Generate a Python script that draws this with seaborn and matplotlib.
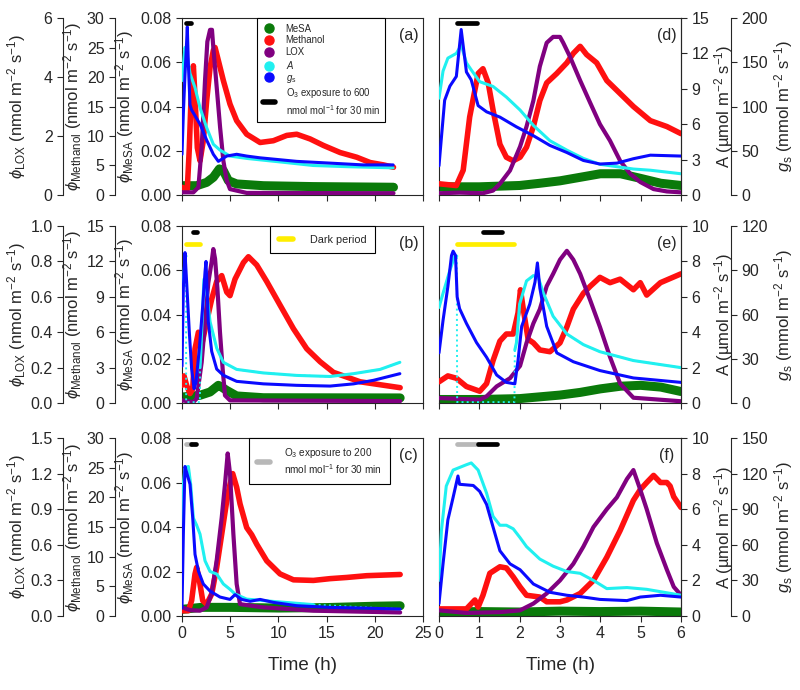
import numpy as np
import matplotlib
matplotlib.use("Agg")
import matplotlib.pyplot as plt
from matplotlib.lines import Line2D
from matplotlib.ticker import FormatStrFormatter
import seaborn as sns

# ---------------- data ----------------
# row 1: O3 600 nmol/mol, panel (a) = 0-22 h, panel (d) = first 6 h
a_mesa_t = [0, 1.52, 2.56, 3.25, 3.88, 4.29, 4.81, 5.67, 8.44, 13.6, 21.94]
a_mesa = [0.0042, 0.0042, 0.0057, 0.008, 0.0118, 0.011, 0.0065, 0.005, 0.0042, 0.0038, 0.0035]
a_meth_t = [0, 0.55, 0.76, 1.0, 1.18, 1.35, 1.59, 1.87, 2.21, 2.56, 2.91, 3.25, 3.43, 3.77, 4.29,
            4.98, 5.67, 6.71, 8.1, 9.48, 10.87, 11.9, 13.29, 14.67, 16.4, 18.13, 19.52, 20.9, 21.94]
a_meth = [1.3, 1.0, 8, 19.4, 21.9, 16.6, 8, 5.8, 9.2, 16, 21.6, 24.5, 25, 22.8, 19.4,
          15.4, 12.6, 10.3, 8.9, 9.2, 10.1, 10.3, 9.5, 8.4, 7.2, 6.4, 5.5, 5.1, 4.7]
a_lox_t = [0, 1.18, 1.7, 2.04, 2.39, 2.63, 2.91, 3.11, 3.25, 3.6, 3.95, 4.29, 4.64, 4.98, 6.71, 21.94]
a_lox = [0.09, 0.09, 0.26, 1.6, 3.9, 5.2, 5.6, 5.6, 5.0, 3.65, 2.3, 1.16, 0.49, 0.2, 0.07, 0.06]
a_a_t = [0, 0.31, 0.48, 0.83, 1.35, 1.87, 2.56, 3.25, 3.95, 4.98, 6.71, 10.2, 13.6, 17.1, 21.9]
a_a = [9.7, 12.5, 12.2, 10.3, 9.1, 7.4, 5.7, 4.3, 3.8, 3.3, 3.1, 2.8, 2.5, 2.4, 2.3]
a_gs_t = [0, 0.14, 0.31, 0.45, 0.55, 0.66, 0.83, 1.0, 1.87, 2.56, 3.25, 3.77, 4.64, 5.67, 6.71,
          8.1, 11.9, 15.4, 18.8, 21.9]
a_gs = [46, 92, 136, 166, 190, 148, 102, 96, 80, 62, 46, 38, 44, 46, 44, 42, 38, 36, 34, 34]

d_mesa_t = [0, 1.0, 2.0, 2.5, 3.0, 3.5, 4.0, 4.5, 5.0, 5.5, 6.0]
d_mesa = [0.0037, 0.0037, 0.0043, 0.0053, 0.0064, 0.008, 0.0096, 0.0096, 0.0075, 0.0053, 0.0043]
d_meth_t = [0, 0.43, 0.60, 0.76, 0.97, 1.09, 1.22, 1.34, 1.51, 1.67, 1.84, 2.01, 2.17, 2.34, 2.50,
            2.67, 2.92, 3.17, 3.33, 3.50, 3.66, 3.91, 4.16, 4.49, 4.82, 5.24, 5.65, 6.0]
d_meth = [1.9, 1.6, 4.2, 13.2, 20.6, 21.4, 19, 14.4, 8.6, 6.4, 5.8, 6.4, 8.1, 11.6, 16,
          19, 20.6, 22.4, 24, 25.2, 23.8, 22.4, 19.4, 17.2, 15, 12.6, 11.6, 10.4]
d_lox_t = [0, 0.51, 1.09, 1.34, 1.51, 1.76, 2.01, 2.17, 2.34, 2.50, 2.67, 2.83, 3.0, 3.08, 3.25,
           3.50, 3.75, 3.99, 4.24, 4.49, 4.74, 4.99, 5.32, 5.65, 6.0]
d_lox = [0.06, 0.08, 0.06, 0.15, 0.38, 0.83, 1.64, 2.32, 3.2, 4.36, 5.16, 5.36, 5.36, 5.16, 4.68,
         3.88, 3.12, 2.4, 1.84, 1.16, 0.72, 0.44, 0.2, 0.12, 0.09]
d_a_t = [0, 0.10, 0.22, 0.43, 0.55, 0.68, 0.80, 1.01, 1.34, 1.67, 2.01, 2.34, 2.75, 3.17, 3.58,
         3.99, 4.41, 4.82, 5.24, 6.0]
d_a = [8.2, 10.5, 11.6, 12.0, 12.7, 11.2, 10.6, 9.6, 9.2, 8.3, 7.2, 5.9, 4.6, 3.8, 3.1,
       2.6, 2.4, 2.2, 2.1, 1.8]
d_gs_t = [0, 0.06, 0.14, 0.27, 0.43, 0.55, 0.68, 0.80, 0.97, 1.18, 1.51, 1.92, 2.34, 2.75, 3.17,
          3.58, 3.99, 4.41, 4.82, 5.24, 6.0]
d_gs = [33, 65, 107, 123, 134, 187, 139, 130, 101, 94, 88, 77, 67, 56, 48, 39, 35, 36, 41, 45, 44]

# row 2: O3 600 nmol/mol given in the dark, panel (b) and (e)
b_mesa_t = [0, 1.87, 2.91, 3.77, 4.12, 4.64, 5.67, 8.44, 22.63]
b_mesa = [0.0027, 0.0035, 0.005, 0.008, 0.0072, 0.0057, 0.0032, 0.0024, 0.0023]
b_meth_t = [0, 0.21, 0.48, 0.83, 1.11, 1.35, 1.7, 2.04, 2.56, 3.08, 3.6, 4.12, 4.64, 4.98, 5.5,
            6.37, 6.89, 7.75, 8.79, 10.17, 11.56, 12.94, 14.33, 15.71, 17.09, 18.48, 20.55, 22.63]
b_meth = [1.5, 2.3, 1.5, 0.8, 1.2, 4.6, 6.0, 4.9, 6.9, 8.8, 10.3, 10.8, 9.4, 9.1, 10.5,
          11.9, 12.4, 11.7, 10.3, 8.3, 6.3, 4.6, 3.5, 2.6, 2.2, 1.8, 1.55, 1.3]
b_lox_t = [0, 1.18, 1.52, 2.04, 2.39, 2.73, 3.08, 3.25, 3.43, 3.67, 3.94, 4.22, 4.46, 4.98, 22.63]
b_lox = [0.015, 0.005, 0.025, 0.23, 0.46, 0.68, 0.80, 0.87, 0.815, 0.65, 0.40, 0.19, 0.043, 0.015, 0.011]
b_a_t = [0, 0.21, 0.35, 0.42, 0.43, 1.86, 1.87, 1.94, 2.15, 2.28, 2.56, 2.91, 3.6, 4.29, 5.67,
         8.44, 11.9, 15.36, 17.8, 20.55, 22.6]
b_a = [5.9, 7.4, 8.3, 8.3, 0.05, 0.05, 2.0, 2.7, 5.5, 7.0, 6.3, 4.6, 3.1, 2.3, 1.9,
       1.7, 1.56, 1.5, 1.66, 1.9, 2.3]
b_gs_t = [0, 0.14, 0.31, 0.48, 0.76, 1.0, 1.25, 1.45, 1.8, 2.15, 2.39, 2.49, 2.73, 3.08, 3.6,
          4.29, 5.67, 8.44, 11.9, 15.36, 17.8, 19.86, 22.6]
b_gs = [25, 78, 102, 82, 48, 23, 9.7, 14, 37, 66, 89, 96, 55, 35, 23,
        18.8, 14.7, 13, 12, 11.5, 13, 15.4, 19.9]

e_mesa_t = [0, 1.0, 2.0, 2.5, 3.0, 3.5, 4.0, 4.5, 5.0, 5.5, 6.0]
e_mesa = [0.0016, 0.0016, 0.002, 0.0028, 0.0036, 0.0048, 0.0064, 0.0076, 0.008, 0.0072, 0.0052]
e_meth_t = [0, 0.22, 0.43, 0.68, 1.01, 1.18, 1.34, 1.51, 1.67, 1.84, 1.96, 2.02, 2.09, 2.21, 2.34,
            2.50, 2.75, 3.0, 3.17, 3.33, 3.58, 3.75, 3.99, 4.24, 4.49, 4.82, 4.99, 5.15, 5.49, 6.0]
e_meth = [1.8, 2.3, 2.1, 1.4, 1.0, 1.65, 3.6, 5.25, 5.85, 5.85, 7.65, 9.6, 7.95, 5.4, 5.1,
          4.5, 4.35, 5.1, 6.45, 7.95, 9.3, 9.9, 10.65, 10.2, 10.5, 9.6, 10.2, 9.15, 10.2, 10.95]
e_lox_t = [0, 1.01, 1.18, 1.43, 1.76, 2.01, 2.17, 2.34, 2.50, 2.67, 2.83, 3.0, 3.17, 3.33, 3.50,
           3.75, 3.99, 4.24, 4.49, 4.82, 6.0]
e_lox = [0.028, 0.019, 0.038, 0.094, 0.14, 0.21, 0.34, 0.45, 0.53, 0.66, 0.73, 0.81, 0.86, 0.81, 0.73,
         0.58, 0.43, 0.26, 0.11, 0.03, 0.01]
e_a_t = [0, 0.10, 0.27, 0.39, 0.44, 0.45, 1.0, 1.5, 1.87, 1.88, 1.92, 2.0, 2.17, 2.34, 2.46,
         2.59, 2.83, 3.17, 3.58, 3.99, 4.82, 6.0]
e_a = [5.4, 6.2, 7.5, 8.3, 8.3, 0.05, 0.05, 0.05, 0.05, 3.0, 3.4, 5.6, 6.9, 7.2, 7.1,
       6.2, 4.9, 3.9, 3.3, 2.9, 2.4, 2.0]
e_gs_t = [0, 0.10, 0.22, 0.31, 0.35, 0.41, 0.45, 0.51, 0.68, 0.93, 1.18, 1.43, 1.67, 1.88, 1.96,
          2.05, 2.25, 2.38, 2.44, 2.50, 2.67, 2.92, 3.33, 3.99, 4.82, 6.0]
e_gs = [34, 56, 79, 100, 103, 100, 72, 64, 54, 41, 31, 19, 14, 13, 29,
        52, 67, 82, 95, 78, 52, 34, 28, 22, 17, 14]

# row 3: O3 200 nmol/mol then 600 nmol/mol, panel (c) and (f)
c_mesa_t = [0, 2.0, 5.0, 10.0, 15.0, 20.0, 22.63]
c_mesa = [0.003, 0.0039, 0.0039, 0.0036, 0.0038, 0.0044, 0.0046]
c_meth_t = [0, 0.66, 1.0, 1.35, 1.52, 1.8, 2.15, 2.56, 3.08, 3.6, 4.12, 4.64, 4.98, 5.26, 5.67,
            6.02, 6.71, 7.23, 7.75, 8.79, 10.17, 11.56, 13.63, 15.36, 17.09, 19.17, 22.63]
c_meth = [0.9, 0.9, 2.6, 7.1, 8.2, 6.0, 2.6, 2.0, 3.7, 8.2, 13.8, 19.4, 22.2, 24.0, 21.7,
          18.9, 14.9, 13.7, 12.1, 9.3, 7.1, 6.1, 6.0, 6.3, 6.5, 6.8, 7.0]
c_lox_t = [0, 0.83, 1.87, 2.56, 3.08, 3.6, 4.12, 4.46, 4.74, 4.98, 5.33, 5.67, 6.02, 8.44, 13.63, 22.63]
c_lox = [0.073, 0.05, 0.045, 0.073, 0.19, 0.47, 0.83, 1.11, 1.37, 1.2, 0.69, 0.27, 0.1, 0.073, 0.045, 0.03]
c_a_t = [0, 0.14, 0.31, 0.66, 0.90, 1.18, 1.52, 1.87, 2.39, 2.91, 3.6, 4.29, 4.98, 5.5, 6.71,
         9.48, 13.63, 18.82, 22.63]
c_a = [3.1, 7.4, 8.35, 8.4, 7.4, 5.5, 5.1, 4.6, 3.1, 2.5, 2.36, 1.8, 1.5, 1.24, 0.95,
       0.82, 0.64, 0.49, 0.39]
c_gs_t = [0, 0.14, 0.31, 0.55, 0.83, 1.11, 1.35, 1.7, 2.21, 2.91, 3.94, 4.98, 5.5, 6.19, 7.06,
          8.10, 9.48, 11.9, 15.36, 18.82, 22.63]
c_gs = [7, 69, 126, 119, 111, 83, 52, 38, 27, 21, 16, 14, 18, 14, 12.4,
        14, 11.5, 8.7, 7.3, 6.7, 5.9]

f_mesa_t = [0, 1, 2, 3, 4, 5, 6]
f_mesa = [0.0018, 0.002, 0.0018, 0.0022, 0.002, 0.0022, 0.0018]
f_meth_t = [0, 0.68, 0.89, 0.97, 1.09, 1.26, 1.51, 1.67, 1.84, 2.01, 2.17, 2.50, 2.67, 3.0, 3.17,
            3.50, 3.83, 4.16, 4.49, 4.82, 4.99, 5.15, 5.32, 5.49, 5.65, 5.73, 5.82, 6.0]
f_meth = [1.2, 1.2, 2.7, 1.5, 3.5, 7.2, 8.3, 8.1, 6.6, 4.9, 3.5, 3.2, 2.4, 2.4, 2.7,
          3.8, 6.0, 9.9, 14.4, 19.5, 21.3, 22.5, 23.7, 22.5, 22.5, 21.9, 20.1, 18.3]
f_lox_t = [0, 0.68, 1.51, 2.01, 2.34, 2.67, 3.0, 3.33, 3.58, 3.83, 4.16, 4.41, 4.66, 4.82, 4.99,
           5.15, 5.40, 5.65, 5.82, 6.0]
f_lox = [0.048, 0.026, 0.033, 0.048, 0.105, 0.19, 0.3, 0.44, 0.585, 0.75, 0.9, 1.0, 1.155, 1.23, 1.065,
         0.9, 0.615, 0.39, 0.246, 0.176]
f_a_t = [0, 0.06, 0.18, 0.35, 0.68, 0.80, 0.97, 1.18, 1.34, 1.51, 1.67, 1.84, 2.01, 2.17, 2.50,
         2.83, 3.17, 3.50, 3.83, 4.16, 4.66, 5.15, 6.0]
f_a = [2.0, 4.8, 7.3, 8.2, 8.5, 8.6, 8.2, 6.9, 5.6, 5.1, 5.1, 4.9, 4.4, 3.9, 3.2,
       2.8, 2.5, 2.4, 2.0, 1.54, 1.6, 1.5, 1.17]
f_gs_t = [0, 0.10, 0.22, 0.35, 0.47, 0.51, 0.85, 1.01, 1.18, 1.34, 1.51, 1.76, 2.01, 2.34, 2.75,
          3.17, 3.58, 3.99, 4.66, 4.99, 5.49, 6.0]
f_gs = [10.5, 44, 81, 100, 118, 111, 110, 105, 94, 75, 55, 44, 39, 27, 20,
        17.5, 16, 14, 13, 16, 17.5, 16]

# ozone exposure / dark period bars (h)
o3_row1 = [0.45, 0.95]
o3_row2 = [1.1, 1.55]
dark_row2 = [0.45, 1.85]
o3_low_row3 = [0.45, 0.93]
o3_row3 = [0.97, 1.45]

# axis ranges for each row (left and right panel of a row share them)
MESA_MAX = [0.08, 0.08, 0.08]
METH_MAX = [30, 15, 30]
METH_STEP = [5, 3, 5]
LOX_MAX = [6, 1.0, 1.5]
LOX_STEP = [2, 0.2, 0.3]
LOX_FMT = ["%d", "%.1f", "%.1f"]
A_MAX = [15, 10, 10]
A_STEP = [3, 2, 2]
GS_MAX = [200, 120, 150]
GS_STEP = [50, 30, 30]

SERIES = ["MeSA", "Methanol", "LOX", "A", "gs"]
COLORS = {"MeSA": "#0a7a0a", "Methanol": "#ff1010", "LOX": "#800080",
          "A": "#20f0f0", "gs": "#0a0aff"}
WIDTHS = {"MeSA": 6.5, "Methanol": 4.0, "LOX": 3.0, "A": 2.2, "gs": 2.2}
UNIT = r" (nmol m$^{-2}$ s$^{-1}$)"
PX = 72 / 100  # points per pixel

sns.set_style("ticks")
plt.rcParams["font.family"] = ["Liberation Sans", "DejaVu Sans"]
plt.rcParams["mathtext.fontset"] = "custom"
plt.rcParams["mathtext.rm"] = "Liberation Sans"
plt.rcParams["mathtext.it"] = "Liberation Sans:italic"
plt.rcParams["mathtext.bf"] = "Liberation Sans:bold"
plt.rcParams["axes.linewidth"] = 0.8
plt.rcParams["xtick.labelsize"] = 11.5
plt.rcParams["ytick.labelsize"] = 11.5
plt.rcParams["xtick.major.size"] = 4
plt.rcParams["ytick.major.size"] = 4
plt.rcParams["axes.labelsize"] = 12


def ticks(top, step):
    return np.linspace(0, top, int(round(top / step)) + 1)


def make_axes(fig, rect):
    host = fig.add_axes(rect)
    axs = {"MeSA": host}
    for name in SERIES[1:]:
        tw = host.twinx()
        for sp in tw.spines.values():
            sp.set_visible(False)
        tw.set_yticks([])
        axs[name] = tw
    return axs


def draw_series(axs, data):
    for name in SERIES:
        t, v = data[name]
        if name == "A" and min(v) < 0.5:
            # light switched off: draw the jumps as dotted, the rest solid
            t = np.asarray(t, float)
            v = np.asarray(v, float)
            sns.lineplot(x=t, y=v, ax=axs[name], color=COLORS[name], linewidth=1.4,
                         linestyle=":", legend=False)
            on = v > 0.5
            run = np.cumsum(np.r_[0, np.diff(on.astype(int)) != 0])
            sns.lineplot(x=t[on], y=v[on], units=run[on], estimator=None, ax=axs[name],
                         color=COLORS[name], linewidth=WIDTHS[name], legend=False)
        else:
            sns.lineplot(x=t, y=v, ax=axs[name], color=COLORS[name],
                         linewidth=WIDTHS[name], legend=False)


def side_axis(ax, side, offset_px, top, step, fmt, label, label_x):
    ax.spines[side].set_visible(True)
    ax.spines[side].set_position(("outward", offset_px * PX))
    ax.set_ylim(0, top)
    ax.set_yticks(ticks(top, step))
    ax.yaxis.set_major_formatter(FormatStrFormatter(fmt))
    if side == "left":
        ax.yaxis.tick_left()
    else:
        ax.yaxis.tick_right()
    ax.yaxis.set_label_position(side)
    ax.set_ylabel(label, visible=True)
    ax.yaxis.set_label_coords(label_x, 0.5)


def setup_left(axs, row, show_x):
    host = axs["MeSA"]
    host.set_xlim(0, 25)
    host.set_xticks(range(0, 26, 5))
    host.tick_params(axis="x", labelbottom=show_x)
    host.set_ylim(0, MESA_MAX[row])
    host.set_yticks(ticks(MESA_MAX[row], 0.02))
    host.yaxis.set_major_formatter(FormatStrFormatter("%.2f"))
    host.set_ylabel(r"$\phi_{\mathrm{MeSA}}$" + UNIT, visible=True)
    host.yaxis.set_label_coords(-0.19, 0.5)
    side_axis(axs["Methanol"], "left", 67, METH_MAX[row], METH_STEP[row], "%d",
              r"$\phi_{\mathrm{Methanol}}$" + UNIT, -0.408)
    side_axis(axs["LOX"], "left", 119, LOX_MAX[row], LOX_STEP[row], LOX_FMT[row],
              r"$\phi_{\mathrm{LOX}}$" + UNIT, -0.638)
    axs["A"].set_ylim(0, A_MAX[row])
    axs["gs"].set_ylim(0, GS_MAX[row])


def setup_right(axs, row, show_x):
    host = axs["MeSA"]
    host.set_xlim(0, 6)
    host.set_xticks(range(7))
    host.tick_params(axis="x", labelbottom=show_x)
    host.set_ylim(0, MESA_MAX[row])
    host.set_yticks([])
    axs["Methanol"].set_ylim(0, METH_MAX[row])
    axs["LOX"].set_ylim(0, LOX_MAX[row])
    side_axis(axs["A"], "right", 0, A_MAX[row], A_STEP[row], "%d",
              r"A (µmol m$^{-2}$ s$^{-1}$)", 1.13)
    side_axis(axs["gs"], "right", 50, GS_MAX[row], GS_STEP[row], "%d",
              r"$g_{\mathrm{s}}$ (mmol m$^{-2}$ s$^{-1}$)", 1.375)


def bar(ax, span, level, color):
    ax.plot(span, [level, level], transform=ax.get_xaxis_transform(), color=color,
            lw=3.4, solid_capstyle="round", clip_on=False)


def panel_tag(ax, tag):
    ax.text(0.94, 0.9, tag, transform=ax.transAxes, ha="center", va="center", fontsize=11.5)


def add_legend(ax, handles, labels, x0, fontsize, **kw):
    leg = ax.legend(handles, labels, loc="upper left", bbox_to_anchor=(x0, 1.0),
                    borderaxespad=0, frameon=True, fancybox=False, framealpha=1,
                    edgecolor="black", fontsize=fontsize, **kw)
    leg.get_frame().set_linewidth(0.8)
    return leg


fig = plt.figure(figsize=(8, 6.9), dpi=100)

rows_y = [(0.7174, 0.2565), (0.4159, 0.2565), (0.1072, 0.258)]
LEFT = (182 / 800, 241 / 800)
RIGHT = (439 / 800, 242 / 800)

left_data = [
    {"MeSA": (a_mesa_t, a_mesa), "Methanol": (a_meth_t, a_meth), "LOX": (a_lox_t, a_lox),
     "A": (a_a_t, a_a), "gs": (a_gs_t, a_gs)},
    {"MeSA": (b_mesa_t, b_mesa), "Methanol": (b_meth_t, b_meth), "LOX": (b_lox_t, b_lox),
     "A": (b_a_t, b_a), "gs": (b_gs_t, b_gs)},
    {"MeSA": (c_mesa_t, c_mesa), "Methanol": (c_meth_t, c_meth), "LOX": (c_lox_t, c_lox),
     "A": (c_a_t, c_a), "gs": (c_gs_t, c_gs)},
]
right_data = [
    {"MeSA": (d_mesa_t, d_mesa), "Methanol": (d_meth_t, d_meth), "LOX": (d_lox_t, d_lox),
     "A": (d_a_t, d_a), "gs": (d_gs_t, d_gs)},
    {"MeSA": (e_mesa_t, e_mesa), "Methanol": (e_meth_t, e_meth), "LOX": (e_lox_t, e_lox),
     "A": (e_a_t, e_a), "gs": (e_gs_t, e_gs)},
    {"MeSA": (f_mesa_t, f_mesa), "Methanol": (f_meth_t, f_meth), "LOX": (f_lox_t, f_lox),
     "A": (f_a_t, f_a), "gs": (f_gs_t, f_gs)},
]

for row in range(3):
    y0, h = rows_y[row]
    last = row == 2
    la = make_axes(fig, [LEFT[0], y0, LEFT[1], h])
    ra = make_axes(fig, [RIGHT[0], y0, RIGHT[1], h])
    draw_series(la, left_data[row])
    draw_series(ra, right_data[row])
    setup_left(la, row, last)
    setup_right(ra, row, last)
    panel_tag(la["MeSA"], "(" + "abc"[row] + ")")
    panel_tag(ra["MeSA"], "(" + "def"[row] + ")")

    for axs in (la, ra):
        top = axs["gs"]
        if row == 0:
            bar(top, o3_row1, 0.97, "black")
        elif row == 1:
            bar(top, dark_row2, 0.90, "#ffee00")
            bar(top, o3_row2, 0.964, "black")
        else:
            bar(top, o3_low_row3, 0.968, "#b8b8b8")
            bar(top, o3_row3, 0.968, "black")

    top = la["gs"]
    if row == 0:
        handles = [Line2D([], [], ls="none", marker="o", markersize=6.5, color=COLORS[n])
                   for n in SERIES]
        handles.append(Line2D([], [], color="black", lw=4, solid_capstyle="round"))
        labels = ["MeSA", "Methanol", "LOX", r"$A$", r"$g_{\mathrm{s}}$",
                  "O$_3$ exposure to 600\nnmol mol$^{-1}$ for 30 min"]
        add_legend(top, handles, labels, 0.311, 6.9, handlelength=1.3,
                   handletextpad=1.1, labelspacing=0.18, borderpad=0.6)
    elif row == 1:
        handles = [Line2D([], [], color="#ffee00", lw=4, solid_capstyle="round")]
        add_legend(top, handles, ["Dark period"], 0.365, 7.8, handlelength=1.3,
                   handletextpad=1.6, borderpad=0.8)
    else:
        handles = [Line2D([], [], color="#b8b8b8", lw=4, solid_capstyle="round")]
        add_legend(top, handles, ["O$_3$ exposure to 200\nnmol mol$^{-1}$ for 30 min"],
                   0.278, 7.2, handlelength=1.3, handletextpad=1.4, borderpad=0.8)
        la["MeSA"].set_xlabel("Time (h)", fontsize=13.5, visible=True)
        la["MeSA"].xaxis.set_label_coords(0.5, -0.23)
        ra["MeSA"].set_xlabel("Time (h)", fontsize=13.5, visible=True)
        ra["MeSA"].xaxis.set_label_coords(0.5, -0.23)

fig.savefig("out.png", dpi=100)
